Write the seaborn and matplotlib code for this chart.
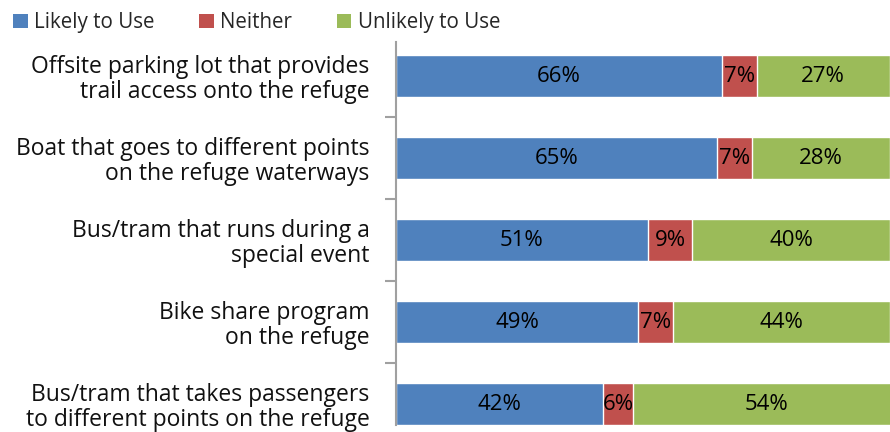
import matplotlib
matplotlib.use("Agg")
import matplotlib.pyplot as plt
import seaborn as sns
import numpy as np
import pandas as pd
from matplotlib.patches import Patch

categories = [
    "Offsite parking lot that provides\ntrail access onto the refuge",
    "Boat that goes to different points\non the refuge waterways",
    "Bus/tram that runs during a\nspecial event",
    "Bike share program\non the refuge",
    "Bus/tram that takes passengers\nto different points on the refuge",
]
likely = [66, 65, 51, 49, 42]
neither = [7, 7, 9, 7, 6]
unlikely = [27, 28, 40, 44, 54]
series_names = ["Likely to Use", "Neither", "Unlikely to Use"]
colors = ["#4F81BD", "#C0504D", "#9BBB59"]

sns.set_theme(style="white")
plt.rcParams['font.family'] = ['Open Sans', 'DejaVu Sans']

fig = plt.figure(figsize=(8.9, 4.32), dpi=100)
ax = fig.add_axes([396/890, 1 - 425/432, 1 - 396/890, (425 - 42)/432])

df = pd.DataFrame({"cat": categories, "likely": likely, "neither": neither, "unlikely": unlikely})
df["c2"] = df["likely"] + df["neither"]
df["c3"] = df["c2"] + df["unlikely"]

sns.barplot(data=df, x="c3", y="cat", color=colors[2], width=0.52, ax=ax, saturation=1, orient="h")
sns.barplot(data=df, x="c2", y="cat", color=colors[1], width=0.52, ax=ax, saturation=1, orient="h")
sns.barplot(data=df, x="likely", y="cat", color=colors[0], width=0.52, ax=ax, saturation=1, orient="h")

fs_val = 16
for i in range(len(categories)):
    l, n, u = likely[i], neither[i], unlikely[i]
    ax.text(l / 2, i, f"{l}%", ha="center", va="center", fontsize=fs_val, color="black")
    ax.text(l + n / 2, i, f"{n}%", ha="center", va="center", fontsize=fs_val, color="black")
    ax.text(l + n + u / 2, i, f"{u}%", ha="center", va="center", fontsize=fs_val, color="black")

ax.set_xlim(0, 100)
ax.set_ylim(4.256, -0.415)
ax.set_xlabel("")
ax.set_ylabel("")
ax.set_xticks([])
ax.set_yticks(np.arange(len(categories)))
ax.set_yticklabels(categories, fontsize=16.5, color="#111111", linespacing=1.05)
ax.set_yticks(np.arange(len(categories) - 1) + 0.5, minor=True)
ax.tick_params(axis="y", which="major", length=0, pad=19)
ax.tick_params(axis="y", which="minor", length=8, width=1.5, color="#a0a0a0", left=True)
for s in ["top", "right", "bottom"]:
    ax.spines[s].set_visible(False)
ax.spines["left"].set_color("#a0a0a0")
ax.spines["left"].set_linewidth(1.5)

handles = [Patch(facecolor=c, edgecolor="none") for c in colors]
fig.legend(handles, series_names, loc="upper left", bbox_to_anchor=(-0.006, 1.015), ncol=3,
           frameon=False, fontsize=14.8, handlelength=0.7, handleheight=0.7,
           handletextpad=0.3, columnspacing=2.2)

fig.savefig("out.png", dpi=100)
